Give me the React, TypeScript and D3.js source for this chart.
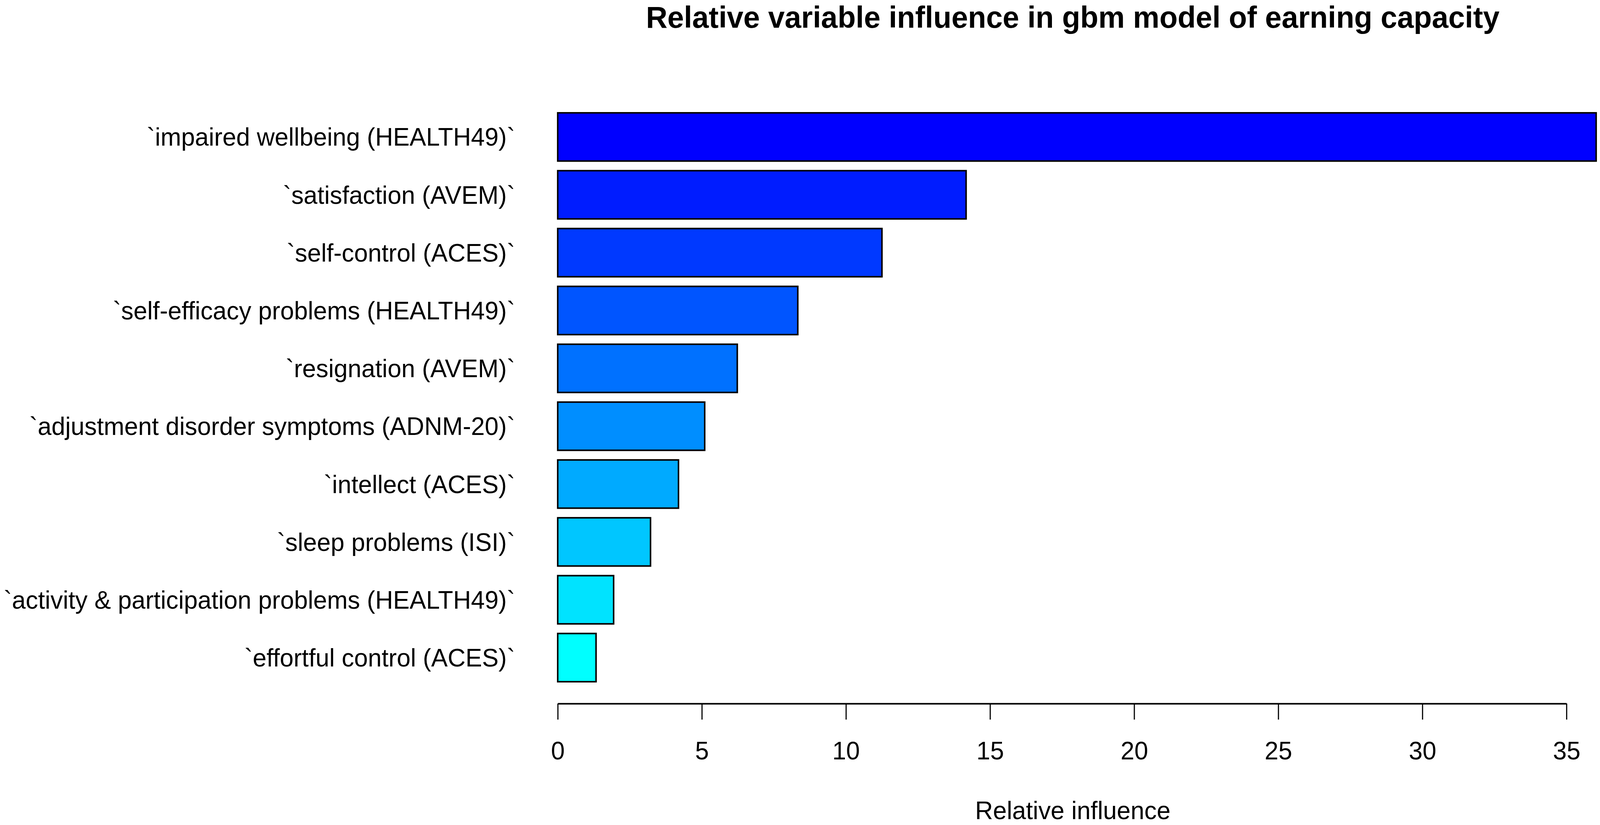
import React, { useEffect, useRef } from "react"
import * as d3 from "d3"

// variables, top to bottom
const variables = [
  "`impaired wellbeing (HEALTH49)`",
  "`satisfaction (AVEM)`",
  "`self-control (ACES)`",
  "`self-efficacy problems (HEALTH49)`",
  "`resignation (AVEM)`",
  "`adjustment disorder symptoms (ADNM-20)`",
  "`intellect (ACES)`",
  "`sleep problems (ISI)`",
  "`activity & participation problems (HEALTH49)`",
  "`effortful control (ACES)`",
]

const relInfluence = [36.03, 14.17, 11.25, 8.33, 6.23, 5.1, 4.19, 3.22, 1.94, 1.33]

const xTicks = [0, 5, 10, 15, 20, 25, 30, 35]

const title = "Relative variable influence in gbm model of earning capacity"
const xLabel = "Relative influence"

const App: React.FC = () => {
  const svgRef = useRef<SVGSVGElement>(null)

  useEffect(() => {
    const svg = d3.select(svgRef.current)
    svg.selectAll("*").remove()

    const width = 4200
    const height = 2113
    const font = "'Liberation Sans', Arial, Helvetica, sans-serif"

    svg.attr("viewBox", `0 0 ${width} ${height}`).attr("preserveAspectRatio", "none")
    svg.append("rect").attr("width", width).attr("height", height).attr("fill", "#ffffff")

    const x = d3.scaleLinear().domain([0, 35]).range([1464, 4112])
    const plotCenter = 2816

    const y = d3
      .scaleBand<string>()
      .domain(variables)
      .range([289, 1746])
      .paddingInner(1 / 6)
      .paddingOuter(0)

    // rainbow from cyan (bottom) to blue (top), like R's rainbow(start=3/6, end=4/6)
    const n = variables.length
    const color = (i: number) => d3.hsl(240 - (60 * i) / (n - 1), 1, 0.5).formatHex()

    const data = variables.map((v, i) => ({ name: v, value: relInfluence[i], i }))

    svg
      .append("g")
      .selectAll("rect")
      .data(data)
      .enter()
      .append("rect")
      .attr("x", x(0))
      .attr("y", (d) => y(d.name) || 0)
      .attr("width", (d) => x(d.value) - x(0))
      .attr("height", y.bandwidth())
      .attr("fill", (d) => color(d.i))
      .attr("stroke", "#000")
      .attr("stroke-width", 4)

    // category labels
    svg
      .append("g")
      .selectAll("text")
      .data(data)
      .enter()
      .append("text")
      .attr("x", 1352)
      .attr("y", (d) => (y(d.name) || 0) + y.bandwidth() / 2)
      .attr("dy", "0.35em")
      .attr("text-anchor", "end")
      .attr("font-family", font)
      .attr("font-size", 65)
      .attr("fill", "#000")
      .text((d) => d.name)

    // x axis
    const axisY = 1802
    const axis = svg
      .append("g")
      .attr("transform", `translate(0,${axisY})`)
      .call(d3.axisBottom(x).tickValues(xTicks).tickSize(41).tickPadding(56).tickSizeOuter(0))

    axis.select(".domain").attr("stroke", "#000").attr("stroke-width", 4)
    axis.selectAll(".tick line").attr("stroke", "#000").attr("stroke-width", 3)
    axis
      .selectAll(".tick text")
      .attr("font-family", font)
      .attr("font-size", 65)
      .attr("fill", "#000")

    svg
      .append("text")
      .attr("x", plotCenter)
      .attr("y", 2098)
      .attr("text-anchor", "middle")
      .attr("font-family", font)
      .attr("font-size", 65)
      .attr("fill", "#000")
      .text(xLabel)

    svg
      .append("text")
      .attr("x", plotCenter)
      .attr("y", 71)
      .attr("text-anchor", "middle")
      .attr("font-family", font)
      .attr("font-weight", "bold")
      .attr("font-size", 78)
      .attr("fill", "#000")
      .text(title)
  }, [])

  return (
    <svg
      ref={svgRef}
      style={{ position: "absolute", left: 0, top: 0, width: "100vw", height: "100vh", display: "block" }}
    ></svg>
  )
}

export default App
